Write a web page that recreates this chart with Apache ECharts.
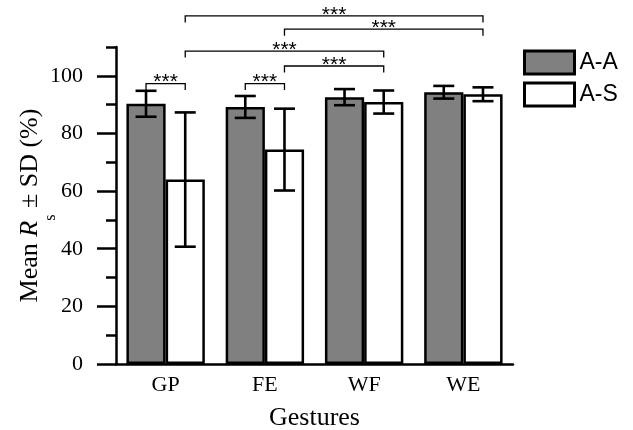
<!DOCTYPE html>
<html><head><meta charset="utf-8">
<script src="https://cdn.jsdelivr.net/npm/echarts@6/dist/echarts.min.js"></script>
<style>html,body{margin:0;padding:0;background:#fff}#c{width:633px;height:430px}</style>
</head><body><div id="c"></div>
<script>
const categories = ['GP', 'FE', 'WF', 'WE'];
const seriesNames = ['A-A', 'A-S'];
const aaMean = [90.3, 89.2, 92.6, 94.3];
const aaSD = [4.5, 3.8, 2.8, 2.2];
const asMean = [64.0, 74.4, 90.9, 93.6];
const asSD = [23.3, 14.2, 4.0, 2.4];
const yTickLabels = [0, 20, 40, 60, 80, 100];
const yMinorTicks = [10, 30, 50, 70, 90, 110];
// significance brackets: [fromCategory, fromGroup, toCategory, toGroup, level]
const sigPairs = [
  [0, 0, 0, 1, 97.3],
  [1, 0, 1, 1, 97.3],
  [1, 1, 2, 1, 103.4],
  [0, 1, 2, 1, 108.6],
  [1, 1, 3, 1, 116.2],
  [0, 1, 3, 1, 120.8]
];
const sigLabel = '***';

const GAP = 0.21;
const serif = 'Liberation Serif';
const sans = 'Liberation Sans';

function offsetFor(api, group) {
  const band = api.size([1, 0])[0];
  const bw = band * (1 - GAP) / 2;
  return group === 0 ? -bw / 2 : bw / 2;
}

function errRender(group) {
  return function (params, api) {
    const i = api.value(0);
    const lo = api.coord([i, api.value(1)]);
    const hi = api.coord([i, api.value(2)]);
    const x = lo[0] + offsetFor(api, group);
    const cap = 10.5;
    const style = { stroke: '#000', lineWidth: 2.6, fill: null };
    return {
      type: 'group', children: [
        { type: 'line', shape: { x1: x, y1: lo[1], x2: x, y2: hi[1] }, style: style },
        { type: 'line', shape: { x1: x - cap, y1: hi[1], x2: x + cap, y2: hi[1] }, style: style },
        { type: 'line', shape: { x1: x - cap, y1: lo[1], x2: x + cap, y2: lo[1] }, style: style }
      ]
    };
  };
}

function sigRender(params, api) {
  const a = api.coord([api.value(0), api.value(4)]);
  const b = api.coord([api.value(2), api.value(4)]);
  const x1 = a[0] + offsetFor(api, api.value(1));
  const x2 = b[0] + offsetFor(api, api.value(3));
  const y = a[1];
  const leg = 6.5;
  return {
    type: 'group', children: [
      { type: 'polyline', shape: { points: [[x1, y + leg], [x1, y], [x2, y], [x2, y + leg]] },
        style: { stroke: '#000', lineWidth: 1.3, fill: null } },
      { type: 'text', x: (x1 + x2) / 2, y: y - 1,
        style: { text: sigLabel, fontSize: 21, fontFamily: sans, fill: '#000', align: 'center', verticalAlign: 'middle' } }
    ]
  };
}

const chart = echarts.init(document.getElementById('c'), null, { renderer: 'canvas' });
chart.setOption({
  animation: false,
  backgroundColor: '#fff',
  grid: { left: 116, right: 120, top: 47, bottom: 66, containLabel: false, outerBoundsMode: 'none' },
  legend: {
    data: seriesNames, orient: 'vertical', left: 523, top: 49.5, padding: 0,
    itemWidth: 50, itemHeight: 23, itemGap: 6, icon: 'rect',
    itemStyle: { borderColor: '#000', borderWidth: 3 },
    textStyle: { fontFamily: sans, fontSize: 23, color: '#000', lineHeight: 23 }
  },
  xAxis: {
    type: 'category', data: categories,
    axisLine: { lineStyle: { color: '#000', width: 2.5 } },
    axisTick: { show: false },
    axisLabel: { fontFamily: serif, fontSize: 22, color: '#000', margin: 10 },
    name: 'Gestures', nameLocation: 'middle', nameGap: 41, nameMoveOverlap: false,
    nameTextStyle: { fontFamily: serif, fontSize: 26, color: '#000' }
  },
  yAxis: [{
    type: 'value', min: 0, max: 110, interval: 10, position: 'left',
    axisLine: { show: true, lineStyle: { color: '#000', width: 2.5 } },
    axisTick: { show: true, customValues: yTickLabels, length: 19, lineStyle: { color: '#000', width: 2.5 } },
    axisLabel: { customValues: yTickLabels, fontFamily: serif, fontSize: 22, color: '#000', margin: 33 },
    splitLine: { show: false },
    name: '{a|Mean }{i|R}{s|s}{h| }{a|± SD (%)}', nameLocation: 'middle', nameGap: 57, nameRotate: 90,
    nameMoveOverlap: false,
    nameTextStyle: {
      fontFamily: serif, fontSize: 26, color: '#000',
      rich: {
        a: { fontFamily: serif, fontSize: 26, color: '#000', verticalAlign: 'top', lineHeight: 26 },
        i: { fontFamily: serif, fontSize: 26, color: '#000', fontStyle: 'italic', verticalAlign: 'top', lineHeight: 26 },
        h: { fontFamily: serif, fontSize: 26, color: '#000', verticalAlign: 'top', lineHeight: 42 },
        s: { fontFamily: serif, fontSize: 16, color: '#000', verticalAlign: 'bottom', lineHeight: 16 }
      }
    }
  }, {
    type: 'value', min: 0, max: 110, interval: 10, position: 'left',
    axisLine: { show: false },
    axisTick: { show: true, customValues: yMinorTicks, length: 10, lineStyle: { color: '#000', width: 2.5 } },
    axisLabel: { show: false },
    splitLine: { show: false }
  }],
  series: [
    { name: seriesNames[0], type: 'bar', data: aaMean, barGap: '0%', barCategoryGap: (GAP * 100) + '%',
      itemStyle: { color: '#808080', borderColor: '#000', borderWidth: 2.5 } },
    { name: seriesNames[1], type: 'bar', data: asMean, barGap: '0%', barCategoryGap: (GAP * 100) + '%',
      itemStyle: { color: '#ffffff', borderColor: '#000', borderWidth: 2.5 } },
    { type: 'custom', renderItem: errRender(0), z: 5,
      data: categories.map((c, i) => [i, aaMean[i] - aaSD[i], aaMean[i] + aaSD[i]]),
      encode: { x: 0, y: [1, 2] } },
    { type: 'custom', renderItem: errRender(1), z: 5,
      data: categories.map((c, i) => [i, asMean[i] - asSD[i], asMean[i] + asSD[i]]),
      encode: { x: 0, y: [1, 2] } },
    { type: 'custom', renderItem: sigRender, z: 5, clip: false,
      data: sigPairs, encode: { x: 0, y: 4 } }
  ]
});
</script></body></html>
